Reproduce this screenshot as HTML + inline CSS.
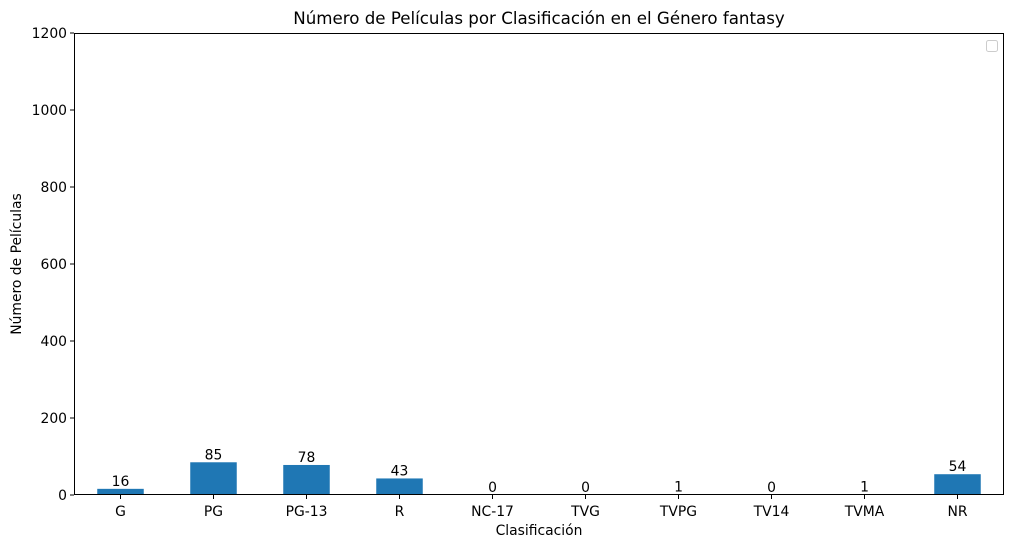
<!DOCTYPE html>
<html><head><meta charset="utf-8"><style>
body{margin:0;background:#fff;}
svg text{font-family:"DejaVu Sans","Liberation Sans",sans-serif;fill:#000;}
</style></head><body>
<svg id="chart" width="1014" height="548">
<text x="539" y="24" font-size="16.67" text-anchor="middle">Número de Películas por Clasificación en el Género fantasy</text>
<g id="bars"></g><g id="ticks"></g>
<rect x="74.5" y="33.5" width="929" height="461" fill="none" stroke="#000" stroke-width="1"/>
<rect x="986.5" y="40.5" width="11" height="11" rx="2" fill="#fff" stroke="#ccc"/>
<text x="539" y="535" font-size="13.9" text-anchor="middle">Clasificación</text>
<text transform="translate(21,264) rotate(-90)" font-size="13.9" text-anchor="middle">Número de Películas</text>
</svg>
<script>
const categories=["G","PG","PG-13","R","NC-17","TVG","TVPG","TV14","TVMA","NR"];
const values=[16,85,78,43,0,0,1,0,1,54];
const yTicks=[0,200,400,600,800,1000,1200];
const L=74,R=1004,T=33,B=495,yMax=1200;
const ns="http://www.w3.org/2000/svg";
const slot=(R-L)/categories.length;
const xc=i=>L+slot*(i+0.5);
const y=v=>B-(v/yMax)*(B-T);
const bars=document.getElementById('bars'),ticks=document.getElementById('ticks');
function mk(t,a,p){const e=document.createElementNS(ns,t);for(const k in a)e.setAttribute(k,a[k]);p.appendChild(e);return e;}
categories.forEach((c,i)=>{
 const r=mk('rect',{x:xc(i)-slot/4,y:y(values[i]),width:slot/2,height:B-y(values[i]),fill:'#1f77b4'},bars);
 
 
 const lb=mk('text',{x:xc(i),y:y(values[i])-3,'font-size':13.9,'text-anchor':'middle'},bars);lb.textContent=values[i];
 
 
 mk('line',{x1:xc(i),x2:xc(i),y1:B,y2:B+4,stroke:'#000'},ticks);
 const t=mk('text',{x:xc(i),y:B+21,'font-size':13.9,'text-anchor':'middle'},ticks);t.textContent=c;
 
 
});
yTicks.forEach(v=>{
 mk('line',{x1:L-4,x2:L,y1:y(v),y2:y(v),stroke:'#000'},ticks);
 const t=mk('text',{x:L-7,y:y(v)+5,'font-size':13.9,'text-anchor':'end'},ticks);t.textContent=v;
 
 
});
</script>
</body></html>
